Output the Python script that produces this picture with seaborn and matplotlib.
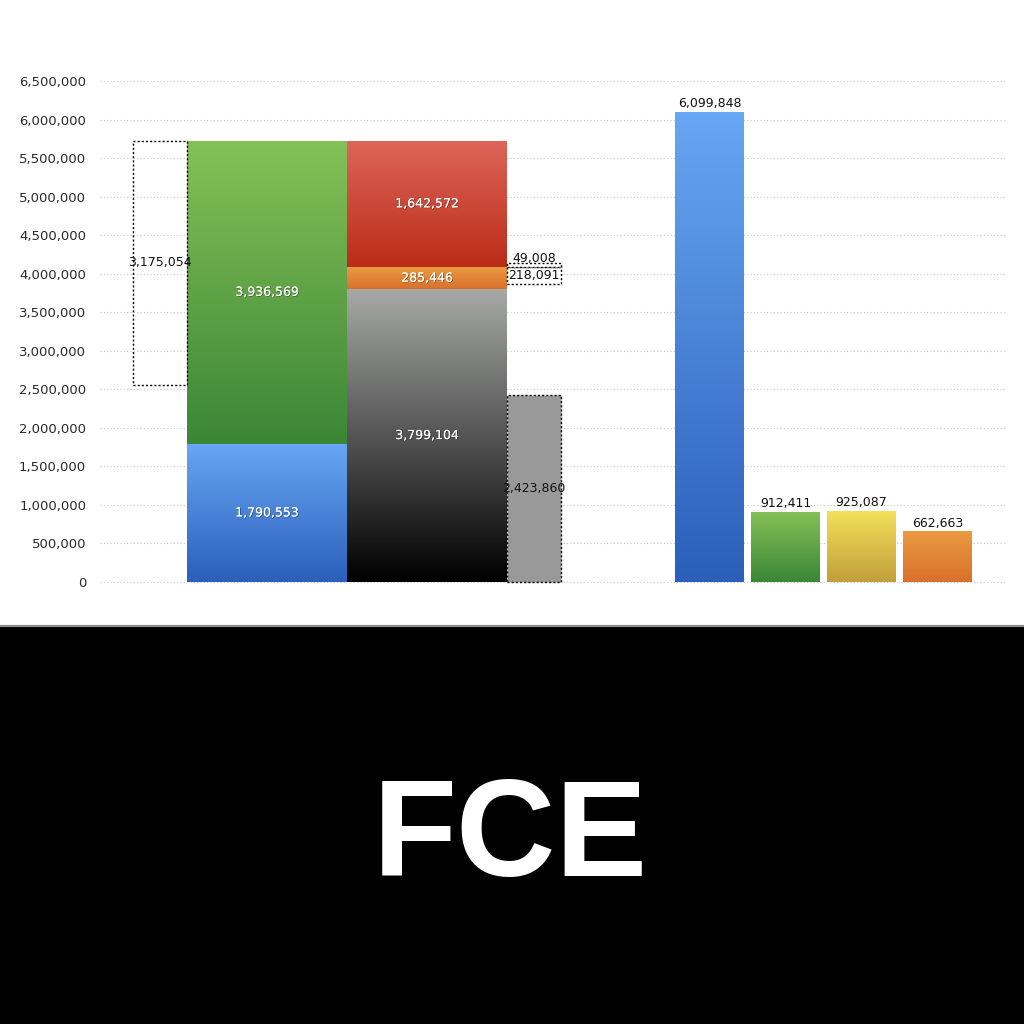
import numpy as np
import matplotlib
matplotlib.use("Agg")
import matplotlib.pyplot as plt
import matplotlib.patheffects as pe
from matplotlib.colors import LinearSegmentedColormap
from matplotlib.patches import Rectangle
from matplotlib.lines import Line2D
import seaborn as sns

# --- data -------------------------------------------------------------------
bridge_value = 3175054                       # dashed bridge box left of the first column
col1_values = [1790553, 3936569]             # blue, green
col2_values = [3799104, 285446, 1642572]     # black/grey, orange, red
col3_base = 2423860                          # grey dashed bar
col3_gap = 218091                            # dashed box under the orange segment top
col3_extra = 49008                           # tiny dashed box above it
right_values = [6099848, 912411, 925087, 662663]

y_ticks = np.arange(0, 6500001, 500000)

# --- colours (top, bottom of gradient) ---------------------------------------
BLUE = ("#67a7f4", "#2b5fba")
GREEN = ("#85c157", "#3b8636")
RED = ("#de655a", "#ba2d17")
ORANGE = ("#eb9c42", "#d8702c")
BLACK = ("#a7a9a7", "#000000")
YELLOW = ("#f3e15b", "#c29f39")
col1_colors = [BLUE, GREEN]
col2_colors = [BLACK, ORANGE, RED]
right_colors = [BLUE, GREEN, YELLOW, ORANGE]


def gradient_fill(ax, patch, top, bottom):
    x0, y0 = patch.get_x(), patch.get_y()
    x1, y1 = x0 + patch.get_width(), y0 + patch.get_height()
    cmap = LinearSegmentedColormap.from_list("g", [top, bottom])
    grad = np.linspace(0, 1, 256)[:, None]
    im = ax.imshow(grad, cmap=cmap, aspect="auto", origin="upper",
                   extent=(x0, x1, y0, y1), zorder=patch.get_zorder() + 0.1,
                   interpolation="bilinear")
    im.set_clip_path(patch)
    patch.set_facecolor("none")


def dashed_box(ax, x, w, bottom, h, face="white"):
    r = Rectangle((x, bottom), w, h, facecolor=face, edgecolor="black",
                  linewidth=1.0, linestyle=(0, (1.5, 1.5)), zorder=3)
    ax.add_patch(r)
    return r


sns.set_style("white")
plt.rcParams["font.family"] = ["DejaVu Sans"]

fig = plt.figure(figsize=(10.24, 10.24), dpi=100)
fig.patch.set_facecolor("white")

# layout in pixel-like x units
ax = fig.add_axes([100 / 1024, (1024 - 589.7) / 1024, 905 / 1024, 516.4 / 1024])

white_fx = [pe.withSimplePatchShadow(offset=(0.5, -0.5), shadow_rgbFace="black", alpha=0.45),
            pe.Normal()]
lab_kw = dict(ha="center", va="center", fontsize=9, zorder=6)

# bridge box
total = sum(col1_values)
dashed_box(ax, 133, 54, total - bridge_value, bridge_value, face="none")
ax.text(160, total - bridge_value / 2, f"{bridge_value:,}", color="#111111", **lab_kw)

# column 1
bottoms = np.concatenate([[0], np.cumsum(col1_values)[:-1]])
bars = ax.bar(267, col1_values, width=160, bottom=bottoms, zorder=2, linewidth=0)
for p, c, v, b in zip(bars.patches, col1_colors, col1_values, bottoms):
    gradient_fill(ax, p, *c)
    ax.text(267, b + v / 2, f"{v:,}", color="white", path_effects=white_fx, **lab_kw)

# column 2
bottoms2 = np.concatenate([[0], np.cumsum(col2_values)[:-1]])
bars = ax.bar(427, col2_values, width=160, bottom=bottoms2, zorder=2, linewidth=0)
for p, c, v, b in zip(bars.patches, col2_colors, col2_values, bottoms2):
    gradient_fill(ax, p, *c)
    ax.text(427, b + v / 2, f"{v:,}", color="white", path_effects=white_fx, **lab_kw)

# column 3 (dashed pieces)
dashed_box(ax, 507, 54, 0, col3_base, face="#999999")
ax.text(534, col3_base / 2, f"{col3_base:,}", color="#111111", **lab_kw)
top_orange = col2_values[0] + col2_values[1]
dashed_box(ax, 507, 54, top_orange - col3_gap, col3_gap, face="white")
ax.text(534, top_orange - col3_gap / 2, f"{col3_gap:,}", color="#111111", **lab_kw)
dashed_box(ax, 507, 54, top_orange, col3_extra, face="white")
ax.annotate(f"{col3_extra:,}", (534, top_orange + col3_extra), xytext=(0, -1.5),
            textcoords="offset points", ha="center", va="bottom", fontsize=9,
            color="#111111", zorder=6)

# right-hand bars
right_pos = 709.5 + 76 * np.arange(len(right_values))
sns.barplot(x=right_pos, y=right_values, native_scale=True, width=69 / 76,
            errorbar=None, color="#4a86dd", linewidth=0, ax=ax, zorder=2)
for p, c, v, x in zip(ax.containers[-1].patches, right_colors, right_values, right_pos):
    gradient_fill(ax, p, *c)
    ax.annotate(f"{v:,}", (x, v), xytext=(0, 1), textcoords="offset points",
                ha="center", va="bottom", fontsize=9, color="#111111", zorder=6)

# axes styling
ax.set_xlim(100, 1005)
ax.set_ylim(-100000, 6600000)
ax.set_yticks(y_ticks)
ax.set_yticklabels([f"{t:,}" for t in y_ticks], fontsize=9.5, color="#2a2a2a")
ax.set_xticks([])
ax.set_xlabel("")
ax.set_ylabel("")
ax.tick_params(axis="y", length=0, pad=10)
ax.yaxis.grid(True, linestyle=(0, (1, 2)), color="#c6c6c6", linewidth=0.8)
ax.set_axisbelow(True)
for s in ax.spines.values():
    s.set_visible(False)

# black band with title
band_h = 397 / 1024
fig.add_artist(Rectangle((0, 0), 1, band_h, transform=fig.transFigure,
                         facecolor="black", edgecolor="none", zorder=0))
fig.add_artist(Line2D([0, 1], [band_h + 0.0008, band_h + 0.0008], transform=fig.transFigure,
                      color="#8c8c8c", linewidth=1.6))
fig.text(0.4985, (1024 - 876) / 1024, "FCE", fontsize=99, fontweight="bold",
         family=["Liberation Sans", "DejaVu Sans"], color="white",
         ha="center", va="baseline")

fig.savefig("out.png", dpi=100, facecolor=fig.get_facecolor())
